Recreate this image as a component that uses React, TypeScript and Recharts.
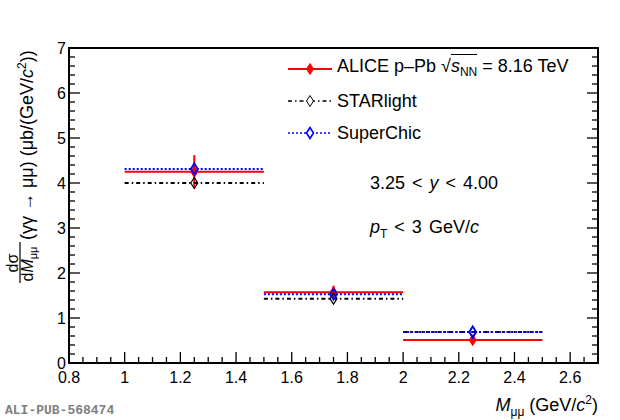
import React from 'react';
import { ComposedChart, Scatter, ErrorBar, XAxis, YAxis, ReferenceArea, Legend, Label } from 'recharts';

const FONT = '"Liberation Sans", Arial, Helvetica, sans-serif';

// ---- data ----
const binCenters = [1.25, 1.75, 2.25];
const binHalfWidths = [0.25, 0.25, 0.25];
const aliceValues = [4.25, 1.57, 0.51];
const aliceErrors = [0.37, 0.15, 0.05];
const starlightValues = [4.0, 1.43, 0.69];
const superchicValues = [4.31, 1.53, 0.69];

// ---- axes ----
const xDomain = [0.8, 2.7];
const yDomain = [0, 7];
const xMajorTicks = [0.8, 1, 1.2, 1.4, 1.6, 1.8, 2, 2.2, 2.4, 2.6];
const yMajorTicks = [0, 1, 2, 3, 4, 5, 6, 7];
const xMinorStep = 0.05;
const yMinorStep = 0.2;

const makeTicks = (lo: number, hi: number, step: number) => {
  const out: number[] = [];
  const n = Math.round((hi - lo) / step);
  for (let i = 0; i <= n; i++) out.push(Math.round((lo + i * step) * 1000) / 1000);
  return out;
};
const xAllTicks = makeTicks(xDomain[0], xDomain[1], xMinorStep);
const yAllTicks = makeTicks(yDomain[0], yDomain[1], yMinorStep);
const isMajor = (list: number[], v: number) => list.some((t) => Math.abs(t - v) < 1e-6);

const aliceData = binCenters.map((x, i) => ({ x, y: aliceValues[i], xerr: binHalfWidths[i], yerr: aliceErrors[i] }));
const starlightData = binCenters.map((x, i) => ({ x, y: starlightValues[i], xerr: binHalfWidths[i] }));
const superchicData = binCenters.map((x, i) => ({ x, y: superchicValues[i], xerr: binHalfWidths[i] }));

const RED = '#ff0000';
const BLUE = '#0000ff';
const BLACK = '#000000';
const DASHDOT = '4 3 1.5 3';
const DOTTED = '2 2';

// ---- ticks ----
const XTick = (props: any) => {
  const { x, y, payload } = props;
  const v = payload.value;
  const major = isMajor(xMajorTicks, v);
  return (
    <g>
      <line x1={x} x2={x} y1={y} y2={y - (major ? 11 : 6)} stroke="#000" strokeWidth={1.3} />
      {major && (
        <text x={x} y={y + 19.5} textAnchor="middle" fontSize={16} fontFamily={FONT} fill="#000">
          {String(v)}
        </text>
      )}
    </g>
  );
};

const YTickLeft = (props: any) => {
  const { x, y, payload } = props;
  const v = payload.value;
  const major = isMajor(yMajorTicks, v);
  return (
    <g>
      <line x1={x} x2={x + (major ? 11 : 6)} y1={y} y2={y} stroke="#000" strokeWidth={1.3} />
      {major && (
        <text x={x - 3} y={y + 5.5} textAnchor="end" fontSize={16} fontFamily={FONT} fill="#000">
          {String(v)}
        </text>
      )}
    </g>
  );
};

const YTickRight = (props: any) => {
  const { x, y, payload } = props;
  const major = isMajor(yMajorTicks, payload.value);
  return <line x1={x} x2={x - (major ? 11 : 6)} y1={y} y2={y} stroke="#000" strokeWidth={1.3} />;
};

// ---- markers ----
const diamondPath = (cx: number, cy: number, w: number, h: number) =>
  `M${cx},${cy - h} L${cx + w},${cy} L${cx},${cy + h} L${cx - w},${cy} Z`;

const FilledDiamond = (props: any) => {
  const { cx, cy } = props;
  return <path d={diamondPath(cx, cy, 3.5, 5.5)} fill={RED} stroke={RED} strokeWidth={1} />;
};
const OpenDiamond = (color: string, sw: number) => (props: any) => {
  const { cx, cy } = props;
  return <path d={diamondPath(cx, cy, 3.5, 5.5)} fill="none" stroke={color} strokeWidth={sw} />;
};

// ---- titles ----
const XTitle = () => (
  <text x={598} y={411} textAnchor="end" fontSize={18} fontFamily={FONT} fill="#000">
    <tspan fontStyle="italic">M</tspan>
    <tspan fontSize={12} dy={5}>μμ</tspan>
    <tspan dy={-5}>{'\u00a0(GeV/'}</tspan>
    <tspan fontStyle="italic">c</tspan>
    <tspan fontSize={12} dy={-7}>2</tspan>
    <tspan dy={7}>)</tspan>
  </text>
);

const YTitle = () => (
  <g transform="translate(33, 283) rotate(-90)" fontFamily={FONT} fill="#000">
    <text x={20} y={-15} textAnchor="middle" fontSize={16}>dσ</text>
    <line x1={0} x2={41} y1={-13} y2={-13} stroke="#000" strokeWidth={1.2} />
    <text x={19} y={0} textAnchor="middle" fontSize={16}>
      d<tspan fontStyle="italic">M</tspan>
      <tspan fontSize={11} dy={4}>μμ</tspan>
    </text>
    <text x={43} y={0} fontSize={18}>
      {'(γγ → μμ)\u00a0(μb/(GeV/'}
      <tspan fontStyle="italic">c</tspan>
      <tspan fontSize={12} dy={-7}>2</tspan>
      <tspan dy={7}>))</tspan>
    </text>
  </g>
);

// ---- legend ----
const legendRows = [
  { key: 'alice', color: RED, dash: undefined as string | undefined, filled: true },
  { key: 'starlight', color: BLACK, dash: DASHDOT, filled: false },
  { key: 'superchic', color: BLUE, dash: DOTTED, filled: false },
];

const LegendLabel = ({ k }: { k: string }) => {
  if (k === 'alice')
    return (
      <span>
        ALICE p–Pb <span>√</span>
        <span style={{ borderTop: '1px solid #000', paddingTop: 1 }}>
          <i>s</i>
          <sub style={{ fontSize: 12, verticalAlign: -4 }}>NN</sub>
        </span>{' '}
        = 8.16 TeV
      </span>
    );
  if (k === 'starlight') return <span>STARlight</span>;
  return <span>SuperChic</span>;
};

const LegendContent = () => (
  <div style={{ fontFamily: FONT, fontSize: 18, color: '#000' }}>
    {legendRows.map((r) => (
      <div key={r.key} style={{ display: 'flex', alignItems: 'center', height: 32, lineHeight: '32px', whiteSpace: 'nowrap' }}>
        <svg width={52} height={32} style={{ display: 'block' }}>
          <line x1={3} x2={47} y1={16} y2={16} stroke={r.color} strokeWidth={r.key === 'alice' ? 2 : 1.5} strokeDasharray={r.dash} />
          <path
            d={diamondPath(25, 16, 3.5, 5.5)}
            fill={r.filled ? r.color : '#fff'}
            stroke={r.color}
            strokeWidth={r.key === 'superchic' ? 1.6 : 1}
          />
        </svg>
        <LegendLabel k={r.key} />
      </div>
    ))}
  </div>
);

export default function App() {
  return (
    <div style={{ position: 'absolute', left: 0, top: 0, width: 620, height: 420, background: '#fff', fontFamily: FONT }}>
      <ComposedChart width={620} height={420} margin={{ top: 48, right: 12, bottom: 17, left: 9 }}>
        <XAxis
          type="number"
          dataKey="x"
          domain={xDomain}
          allowDataOverflow
          ticks={xAllTicks}
          interval={0}
          tick={<XTick />}
          tickLine={false}
          axisLine={false}
          tickSize={0}
          tickMargin={0}
          height={40}
        >
          <Label content={XTitle} />
        </XAxis>
        <YAxis
          type="number"
          dataKey="y"
          domain={yDomain}
          allowDataOverflow
          ticks={yAllTicks}
          interval={0}
          tick={<YTickLeft />}
          tickLine={false}
          axisLine={false}
          tickSize={0}
          tickMargin={0}
          width={60}
        >
          <Label content={YTitle} />
        </YAxis>
        <YAxis
          yAxisId="right"
          orientation="right"
          type="number"
          domain={yDomain}
          allowDataOverflow
          ticks={yAllTicks}
          interval={0}
          tick={<YTickRight />}
          tickLine={false}
          axisLine={false}
          tickSize={0}
          tickMargin={0}
          width={10}
        />
        <ReferenceArea
          x1={xDomain[0]}
          x2={xDomain[1]}
          y1={yDomain[0]}
          y2={yDomain[1]}
          fill="none"
          fillOpacity={0}
          stroke="#000"
          strokeWidth={2}
          ifOverflow="visible"
        />
        <Scatter data={aliceData} fill={RED} shape={FilledDiamond} isAnimationActive={false}>
          <ErrorBar dataKey="xerr" direction="x" width={0} stroke={RED} strokeWidth={2} isAnimationActive={false} />
          <ErrorBar dataKey="yerr" direction="y" width={0} stroke={RED} strokeWidth={2} isAnimationActive={false} />
        </Scatter>
        <Scatter data={starlightData} fill={BLACK} shape={OpenDiamond(BLACK, 1.2)} isAnimationActive={false}>
          <ErrorBar dataKey="xerr" direction="x" width={0} stroke={BLACK} strokeWidth={2} strokeDasharray={DASHDOT} isAnimationActive={false} />
        </Scatter>
        <Scatter data={superchicData} fill={BLUE} shape={OpenDiamond(BLUE, 1.8)} isAnimationActive={false}>
          <ErrorBar dataKey="xerr" direction="x" width={0} stroke={BLUE} strokeWidth={2} strokeDasharray={DOTTED} isAnimationActive={false} />
        </Scatter>
        <Legend
          layout="vertical"
          align="center"
          verticalAlign="middle"
          content={LegendContent}
          wrapperStyle={{ top: 53, left: 285, width: 320 }}
        />
      </ComposedChart>
      <div style={{ position: 'absolute', left: 370, top: 174, fontSize: 18, lineHeight: '18px', wordSpacing: 2, whiteSpace: 'nowrap' }}>
        3.25 &lt; <i>y</i> &lt; 4.00
      </div>
      <div style={{ position: 'absolute', left: 370, top: 218, fontSize: 18, lineHeight: '18px', wordSpacing: 2, whiteSpace: 'nowrap' }}>
        <i>p</i>
        <sub style={{ fontSize: 12, verticalAlign: -5 }}>T</sub> &lt; 3 GeV/<i>c</i>
      </div>
      <div
        style={{
          position: 'absolute',
          left: 5,
          top: 404,
          fontFamily: '"Liberation Mono", "DejaVu Sans Mono", monospace',
          fontWeight: 'bold',
          fontSize: 13,
          lineHeight: '13px',
          color: '#808080',
          whiteSpace: 'nowrap',
        }}
      >
        ALI-PUB-568474
      </div>
    </div>
  );
}
